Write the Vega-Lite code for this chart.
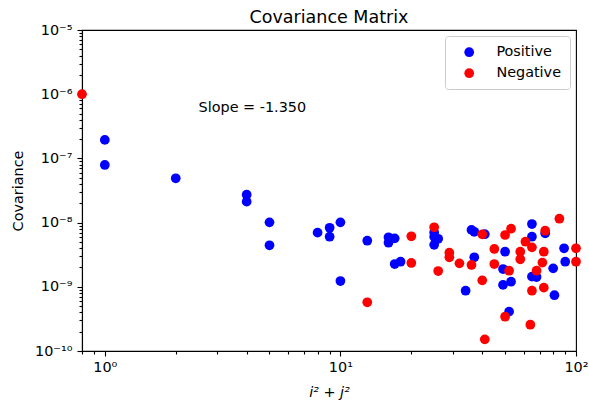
{
  "$schema": "https://vega.github.io/schema/vega-lite/v6.json",
  "width": 494,
  "height": 321,
  "autosize": {"type": "none"},
  "padding": {"left": 82, "top": 30, "right": 13, "bottom": 52},
  "background": "white",
  "title": {"text": "Covariance Matrix", "fontSize": 17.5, "font": "DejaVu Sans", "fontWeight": "normal", "offset": -4, "anchor": "middle", "color": "black"},
  "config": {
    "view": {"stroke": "black", "strokeWidth": 1.1},
    "font": "DejaVu Sans",
    "axis": {"domainColor": "black", "domainWidth": 1.1, "tickColor": "black", "tickWidth": 1.1, "labelColor": "black", "titleColor": "black", "labelFont": "DejaVu Sans", "titleFont": "DejaVu Sans", "labelFontSize": 14.4, "titleFontSize": 14.4, "titleFontWeight": "normal", "grid": false}
  },
  "datasets": {
    "pts": [
      {"x": 1, "y": 1.94e-7, "sign": "Positive"},
      {"x": 1, "y": 7.9e-8, "sign": "Positive"},
      {"x": 2, "y": 4.9e-8, "sign": "Positive"},
      {"x": 4, "y": 2.72e-8, "sign": "Positive"},
      {"x": 4, "y": 2.12e-8, "sign": "Positive"},
      {"x": 5, "y": 1.01e-8, "sign": "Positive"},
      {"x": 5, "y": 4.43e-9, "sign": "Positive"},
      {"x": 8, "y": 6.97e-9, "sign": "Positive"},
      {"x": 9, "y": 8.3e-9, "sign": "Positive"},
      {"x": 9, "y": 6.03e-9, "sign": "Positive"},
      {"x": 10, "y": 1.01e-8, "sign": "Positive"},
      {"x": 10, "y": 1.23e-9, "sign": "Positive"},
      {"x": 13, "y": 5.22e-9, "sign": "Positive"},
      {"x": 16, "y": 5.9e-9, "sign": "Positive"},
      {"x": 16, "y": 4.86e-9, "sign": "Positive"},
      {"x": 17, "y": 5.69e-9, "sign": "Positive"},
      {"x": 17, "y": 2.26e-9, "sign": "Positive"},
      {"x": 18, "y": 2.46e-9, "sign": "Positive"},
      {"x": 25, "y": 7.0e-9, "sign": "Positive"},
      {"x": 25, "y": 6.0e-9, "sign": "Positive"},
      {"x": 25, "y": 4.5e-9, "sign": "Positive"},
      {"x": 26, "y": 5.6e-9, "sign": "Positive"},
      {"x": 34, "y": 8.7e-10, "sign": "Positive"},
      {"x": 36, "y": 7.7e-9, "sign": "Positive"},
      {"x": 37, "y": 7.2e-9, "sign": "Positive"},
      {"x": 37, "y": 2.88e-9, "sign": "Positive"},
      {"x": 41, "y": 6.6e-9, "sign": "Positive"},
      {"x": 49, "y": 1.89e-9, "sign": "Positive"},
      {"x": 49, "y": 1.07e-9, "sign": "Positive"},
      {"x": 50, "y": 3.52e-9, "sign": "Positive"},
      {"x": 52, "y": 4.1e-10, "sign": "Positive"},
      {"x": 53, "y": 1.2e-9, "sign": "Positive"},
      {"x": 65, "y": 9.5e-9, "sign": "Positive"},
      {"x": 65, "y": 6.03e-9, "sign": "Positive"},
      {"x": 65, "y": 1.44e-9, "sign": "Positive"},
      {"x": 68, "y": 1.42e-9, "sign": "Positive"},
      {"x": 74, "y": 6.8e-9, "sign": "Positive"},
      {"x": 80, "y": 1.94e-9, "sign": "Positive"},
      {"x": 81, "y": 7.4e-10, "sign": "Positive"},
      {"x": 89, "y": 3.98e-9, "sign": "Positive"},
      {"x": 90, "y": 2.46e-9, "sign": "Positive"},
      {"x": 0.8, "y": 1e-6, "sign": "Negative"},
      {"x": 13, "y": 5.74e-10, "sign": "Negative"},
      {"x": 20, "y": 6.12e-9, "sign": "Negative"},
      {"x": 20, "y": 2.35e-9, "sign": "Negative"},
      {"x": 25, "y": 8.45e-9, "sign": "Negative"},
      {"x": 26, "y": 1.76e-9, "sign": "Negative"},
      {"x": 29, "y": 3.4e-9, "sign": "Negative"},
      {"x": 29, "y": 2.88e-9, "sign": "Negative"},
      {"x": 32, "y": 2.32e-9, "sign": "Negative"},
      {"x": 36, "y": 2.19e-9, "sign": "Negative"},
      {"x": 40, "y": 6.58e-9, "sign": "Negative"},
      {"x": 40, "y": 1.26e-9, "sign": "Negative"},
      {"x": 41, "y": 1.52e-10, "sign": "Negative"},
      {"x": 45, "y": 3.88e-9, "sign": "Negative"},
      {"x": 45, "y": 2.26e-9, "sign": "Negative"},
      {"x": 50, "y": 6.41e-9, "sign": "Negative"},
      {"x": 50, "y": 3.42e-10, "sign": "Negative"},
      {"x": 52, "y": 1.78e-9, "sign": "Negative"},
      {"x": 53, "y": 8.03e-9, "sign": "Negative"},
      {"x": 58, "y": 3.52e-9, "sign": "Negative"},
      {"x": 58, "y": 2.68e-9, "sign": "Negative"},
      {"x": 61, "y": 5.04e-9, "sign": "Negative"},
      {"x": 64, "y": 2.57e-10, "sign": "Negative"},
      {"x": 65, "y": 4.12e-9, "sign": "Negative"},
      {"x": 65, "y": 8.7e-10, "sign": "Negative"},
      {"x": 68, "y": 1.78e-9, "sign": "Negative"},
      {"x": 72, "y": 2.38e-9, "sign": "Negative"},
      {"x": 73, "y": 3.52e-9, "sign": "Negative"},
      {"x": 73, "y": 9.7e-10, "sign": "Negative"},
      {"x": 74, "y": 7.48e-9, "sign": "Negative"},
      {"x": 85, "y": 1.15e-8, "sign": "Negative"},
      {"x": 100, "y": 3.98e-9, "sign": "Negative"},
      {"x": 100, "y": 2.46e-9, "sign": "Negative"}
    ],
    "ann": [
      {"x": 2.5, "y": 6e-7, "label": "Slope = -1.350"}
    ]
  },
  "layer": [
    {
      "data": {"name": "pts"},
      "mark": {"type": "point", "filled": true, "size": 95, "opacity": 1, "shape": "circle"},
      "encoding": {
        "x": {
          "field": "x", "type": "quantitative",
          "scale": {"type": "log", "domain": [0.8, 100], "nice": false},
          "axis": {"orient": "bottom", "values": [1, 10, 100], "tickSize": 5, "labelPadding": 4, "labelExpr": "'10' + ['⁰','¹','²'][round(log(datum.value)/LN10)]", "title": "i² + j²", "titleFontStyle": "italic", "titleX": 247, "titleY": 41, "titleBaseline": "middle", "titleAlign": "center", "labelFlush": false, "labelOverlap": false}
        },
        "y": {
          "field": "y", "type": "quantitative",
          "scale": {"type": "log", "domain": [1e-10, 1e-5], "nice": false},
          "axis": {"orient": "left", "values": [1e-10, 1e-9, 1e-8, 1e-7, 1e-6, 1e-5], "tickSize": 5, "labelPadding": 5, "labelExpr": "'10' + ['⁻¹⁰','⁻⁹','⁻⁸','⁻⁷','⁻⁶','⁻⁵'][round(log(datum.value)/LN10)+10]", "title": "Covariance", "titleAngle": 270, "titleX": -64, "titleY": 160.5, "titleBaseline": "middle", "titleAlign": "center", "labelFlush": false, "labelOverlap": false}
        },
        "color": {
          "field": "sign", "type": "nominal",
          "scale": {"domain": ["Positive", "Negative"], "range": ["#0000ff", "#ff0000"]},
          "legend": {"title": null, "orient": "top-right", "offset": 6, "padding": 9, "strokeColor": "#cccccc", "fillColor": "white", "cornerRadius": 3, "labelFontSize": 14.4, "labelFont": "DejaVu Sans", "labelColor": "black", "symbolSize": 95, "symbolType": "circle", "symbolOffset": 8, "labelOffset": 20, "rowPadding": 6, "symbolStrokeWidth": 0}
        }
      }
    },
    {
      "data": {"name": "ann"},
      "mark": {"type": "text", "align": "left", "baseline": "middle", "fontSize": 14.4, "font": "DejaVu Sans", "color": "black"},
      "encoding": {
        "x": {
          "field": "x", "type": "quantitative",
          "scale": {"type": "log", "domain": [0.8, 100], "nice": false},
          "axis": {"orient": "bottom", "values": [0.8, 0.9, 2, 3, 4, 5, 6, 7, 8, 9, 20, 30, 40, 50, 60, 70, 80, 90], "tickSize": 3, "labels": false, "domain": false, "title": null}
        },
        "y": {
          "field": "y", "type": "quantitative",
          "scale": {"type": "log", "domain": [1e-10, 1e-5], "nice": false},
          "axis": {"orient": "left", "values": [2e-10, 3e-10, 4e-10, 5e-10, 6e-10, 7e-10, 8e-10, 9e-10, 2e-9, 3e-9, 4e-9, 5e-9, 6e-9, 7e-9, 8e-9, 9e-9, 2e-8, 3e-8, 4e-8, 5e-8, 6e-8, 7e-8, 8e-8, 9e-8, 2e-7, 3e-7, 4e-7, 5e-7, 6e-7, 7e-7, 8e-7, 9e-7, 2e-6, 3e-6, 4e-6, 5e-6, 6e-6, 7e-6, 8e-6, 9e-6], "tickSize": 3, "labels": false, "domain": false, "title": null}
        },
        "text": {"field": "label"}
      }
    }
  ],
  "resolve": {"axis": {"x": "independent", "y": "independent"}}
}
